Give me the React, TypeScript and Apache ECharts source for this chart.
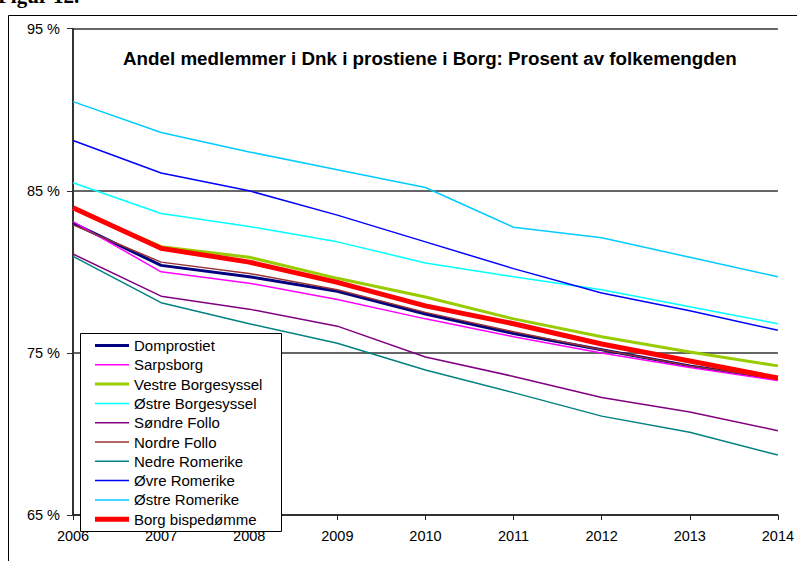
import React, { useEffect, useRef } from "react";
import * as echarts from "echarts";

const years = ["2006", "2007", "2008", "2009", "2010", "2011", "2012", "2013", "2014"];

const domprostiet = [83.0, 80.4, 79.7, 78.8, 77.4, 76.2, 75.2, 74.2, 73.4];
const sarpsborg = [83.1, 80.0, 79.3, 78.3, 77.1, 76.0, 75.0, 74.1, 73.3];
const vestreBorgesyssel = [83.9, 81.55, 80.9, 79.6, 78.45, 77.1, 76.0, 75.05, 74.2];
const ostreBorgesyssel = [85.5, 83.6, 82.8, 81.85, 80.55, 79.7, 78.9, 77.85, 76.8];
const sondreFollo = [81.1, 78.5, 77.7, 76.65, 74.75, 73.55, 72.25, 71.35, 70.2];
const nordreFollo = [82.9, 80.6, 79.9, 78.9, 77.5, 76.3, 75.2, 74.2, 73.4];
const nedreRomerike = [80.95, 78.1, 76.8, 75.6, 73.95, 72.55, 71.1, 70.1, 68.7];
const ovreRomerike = [88.1, 86.1, 85.0, 83.5, 81.85, 80.2, 78.7, 77.6, 76.4];
const ostreRomerike = [90.5, 88.6, 87.4, 86.3, 85.2, 82.75, 82.1, 80.9, 79.7];
const borgBispedomme = [83.95, 81.45, 80.6, 79.35, 77.9, 76.8, 75.55, 74.5, 73.45];

const seriesDefs = [
  { name: "Domprostiet", data: domprostiet, color: "#000080", width: 3 },
  { name: "Sarpsborg", data: sarpsborg, color: "#FF00FF", width: 1.5 },
  { name: "Vestre Borgesyssel", data: vestreBorgesyssel, color: "#99CC00", width: 3 },
  { name: "Østre Borgesyssel", data: ostreBorgesyssel, color: "#00FFFF", width: 1.5 },
  { name: "Søndre Follo", data: sondreFollo, color: "#800080", width: 1.5 },
  { name: "Nordre Follo", data: nordreFollo, color: "#993333", width: 1.5 },
  { name: "Nedre Romerike", data: nedreRomerike, color: "#008080", width: 1.5 },
  { name: "Øvre Romerike", data: ovreRomerike, color: "#0000FF", width: 1.5 },
  { name: "Østre Romerike", data: ostreRomerike, color: "#00CCFF", width: 1.5 },
  { name: "Borg bispedømme", data: borgBispedomme, color: "#FF0000", width: 5 },
];

const titleText = "Andel medlemmer i Dnk i prostiene i Borg: Prosent av folkemengden";
const headingText = "Figur 12.";
const font = "Liberation Sans, Arial, sans-serif";

function buildLegend() {
  const boxX = 80.5;
  const boxY = 333.5;
  const rowGap = 19.3;
  const firstY = 345.5;
  const children: any[] = [
    {
      type: "rect",
      z: 100,
      shape: { x: boxX, y: boxY, width: 201, height: 198 },
      style: { fill: "#fff", stroke: "#000", lineWidth: 1 },
    },
  ];
  seriesDefs.forEach((s, i) => {
    const y = firstY + i * rowGap;
    children.push({
      type: "line",
      z: 101,
      shape: { x1: 95, y1: y, x2: 129, y2: y },
      style: { stroke: s.color, lineWidth: s.width },
    });
    children.push({
      type: "text",
      z: 101,
      x: 134,
      y: y,
      style: {
        text: s.name,
        font: `15px ${font}`,
        fill: "#000",
        verticalAlign: "middle",
        align: "left",
      },
    });
  });
  return { type: "group", z: 100, children };
}

export default function App() {
  const ref = useRef<HTMLDivElement>(null);
  useEffect(() => {
    if (!ref.current) return;
    const chart = echarts.init(ref.current, undefined, { renderer: "svg" });
    chart.setOption({
      animation: false,
      backgroundColor: "#ffffff",
      title: {
        text: titleText,
        left: 123,
        top: 49,
        padding: 0,
        textStyle: { fontFamily: font, fontSize: 18.8, fontWeight: "bold", color: "#000" },
      },
      graphic: [
        {
          type: "rect",
          shape: { x: 8.5, y: 15.5, width: 900, height: 900 },
          style: { fill: "none", stroke: "#000", lineWidth: 1 },
          z: -1,
        },
        {
          type: "text",
          x: -2,
          y: 6,
          style: {
            text: headingText,
            font: "bold 21px 'Liberation Serif', serif",
            fill: "#000",
            verticalAlign: "bottom",
          },
        },
        buildLegend(),
      ],
      grid: { left: 73, right: 15, top: 28.7, bottom: 46, containLabel: false },
      xAxis: {
        type: "category",
        data: years,
        boundaryGap: false,
        axisLine: { lineStyle: { color: "#222", width: 1.5 } },
        axisTick: { show: true, length: 5, lineStyle: { color: "#222" } },
        axisLabel: { fontFamily: font, fontSize: 14.5, color: "#000", margin: 13 },
        splitLine: { show: false },
      },
      yAxis: {
        type: "value",
        min: 65,
        max: 95,
        interval: 10,
        axisLine: { show: true, lineStyle: { color: "#333", width: 2 } },
        axisTick: { show: true, length: 6, lineStyle: { color: "#333" } },
        axisLabel: { fontFamily: font, fontSize: 14.5, color: "#000", margin: 13, formatter: "{value} %" },
        splitLine: { show: true, lineStyle: { color: "#333", width: 1.5 } },
      },
      series: seriesDefs.map((s, i) => ({
        name: s.name,
        type: "line",
        data: s.data,
        symbol: "none",
        showSymbol: false,
        color: s.color,
        lineStyle: { color: s.color, width: s.width },
        z: 2 + i,
      })),
    });
    return () => chart.dispose();
  }, []);
  return (
    <div
      ref={ref}
      style={{ position: "fixed", left: 0, top: 0, width: 797, height: 561 }}
    />
  );
}
